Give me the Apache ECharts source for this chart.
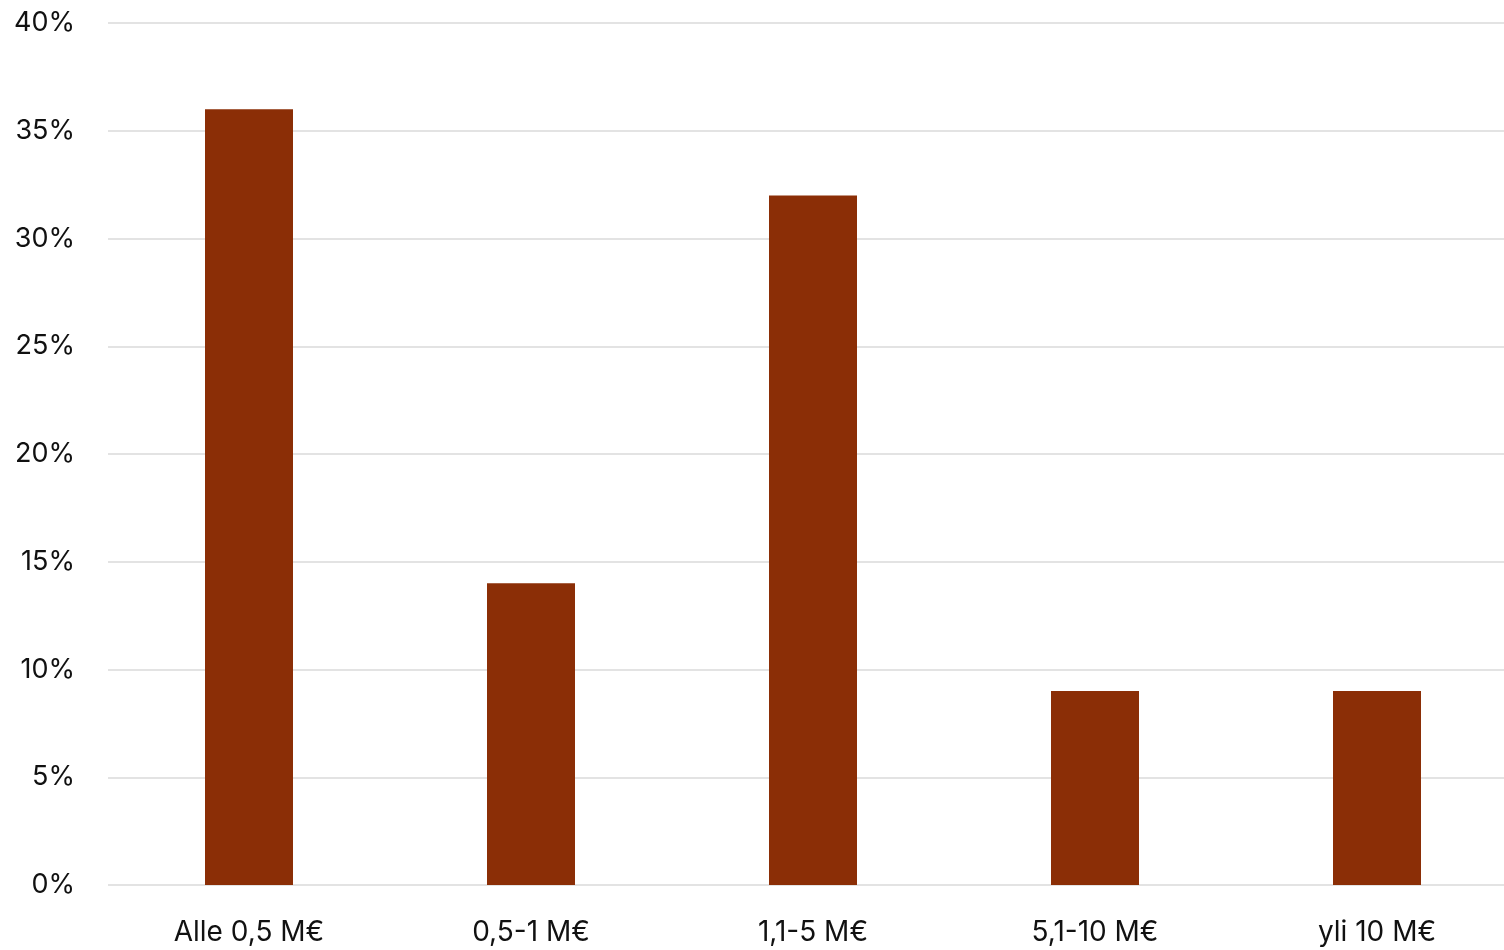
<!DOCTYPE html>
<html><head><meta charset="utf-8">
<script src="https://cdn.jsdelivr.net/npm/echarts@6/dist/echarts.min.js"></script>
<style>html,body{margin:0;padding:0;background:#fff}#c{width:1504px;height:950px}</style>
</head><body><div id="c"></div>
<script>
const categories = ["Alle 0,5 M€", "0,5-1 M€", "1,1-5 M€", "5,1-10 M€", "yli 10 M€"];
const values = [36, 14, 32, 9, 9];
const yTicks = { min: 0, max: 40, interval: 5 };

const chart = echarts.init(document.getElementById('c'), null, { renderer: 'canvas' });
chart.setOption({
  animation: false,
  backgroundColor: '#ffffff',
  grid: { left: 108, top: 23, right: -14, bottom: 65, containLabel: false, outerBoundsMode: 'none' },
  xAxis: {
    type: 'category',
    data: categories,
    axisLine: { show: false },
    axisTick: { show: false },
    axisLabel: { color: '#111', fontSize: 28, fontFamily: 'Inter, "Open Sans", sans-serif', margin: 34 }
  },
  yAxis: {
    type: 'value',
    min: yTicks.min, max: yTicks.max, interval: yTicks.interval,
    axisLine: { show: false },
    axisTick: { show: false },
    splitLine: { lineStyle: { color: '#e3e3e3', width: 2 } },
    axisLabel: { color: '#111', fontSize: 27, fontFamily: 'Inter, "Open Sans", sans-serif', margin: 33, formatter: '{value}%' }
  },
  series: [{
    type: 'bar',
    data: values,
    barWidth: 88,
    itemStyle: { color: '#8b2e06' }
  }]
});
</script></body></html>
